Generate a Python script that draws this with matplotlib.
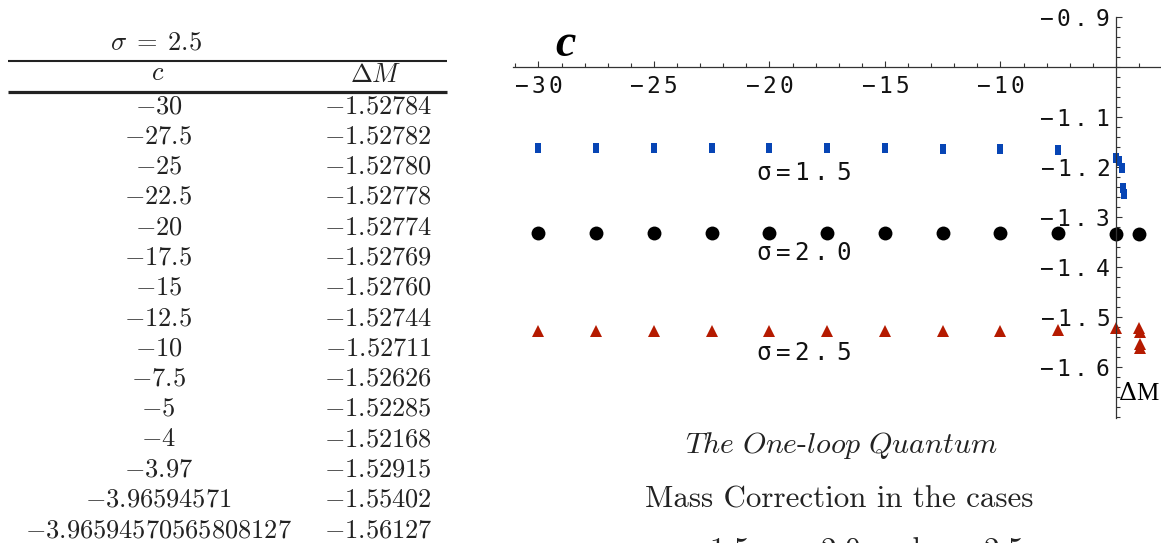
import matplotlib
matplotlib.use("Agg")
import matplotlib.pyplot as plt
from matplotlib.ticker import FixedLocator, MultipleLocator, FuncFormatter

plt.rcParams['mathtext.fontset'] = 'dejavusans'
plt.rcParams['axes.unicode_minus'] = True

# sigma = 2.5 table (also drawn as the red triangles)
c_labels = ["-30", "-27.5", "-25", "-22.5", "-20", "-17.5", "-15", "-12.5",
            "-10", "-7.5", "-5", "-4", "-3.97", "-3.96594571",
            "-3.96594570565808127"]
dm_labels = ["-1.52784", "-1.52782", "-1.52780", "-1.52778", "-1.52774",
             "-1.52769", "-1.52760", "-1.52744", "-1.52711", "-1.52626",
             "-1.52285", "-1.52168", "-1.52915", "-1.55402", "-1.56127"]
c_25 = [float(s) for s in c_labels]
dm_25 = [float(s) for s in dm_labels]

# sigma = 2.0 (black dots)
c_20 = [-30, -27.5, -25, -22.5, -20, -17.5, -15, -12.5, -10, -7.5, -5, -4]
dm_20 = [-1.3327, -1.3327, -1.3327, -1.3327, -1.3327, -1.3327, -1.3327,
         -1.3327, -1.3327, -1.3328, -1.3330, -1.3330]

# sigma = 1.5 (blue bars)
c_15 = [-30, -27.5, -25, -22.5, -20, -17.5, -15, -12.5, -10, -7.5,
        -5, -4.85, -4.73, -4.68, -4.67]
dm_15 = [-1.1610, -1.1610, -1.1611, -1.1612, -1.1613, -1.1616, -1.1622,
         -1.1630, -1.1638, -1.1667, -1.1820, -1.1885, -1.2027, -1.2420,
         -1.2545]

x_major = [-30, -25, -20, -15, -10]
y_major = [-1.6, -1.5, -1.4, -1.3, -1.2, -1.1, -0.9]


def mono(s):
    # Mathematica-style spaced courier labels
    return r'$\mathtt{' + r'\,'.join(s) + '}$'


fig = plt.figure(figsize=(11.61, 5.43), dpi=100)

# --- table and caption, drawn in pixel coordinates ---
tab = fig.add_axes([0, 0, 1, 1])
tab.set_xlim(0, 1161)
tab.set_ylim(543, 0)
tab.axis('off')

cm = dict(math_fontfamily='cm', family='cmr10', color='#222222')
tab.text(156, 50, r'$\sigma\;=\;2.5$', ha='center', va='baseline', fontsize=19, **cm)
tab.plot([8, 447], [60.5, 60.5], color='#222222', lw=1.5, solid_capstyle='butt')
tab.text(158, 80, r'$c$', ha='center', va='baseline', fontsize=19, **cm)
tab.text(376, 82, r'$\Delta M$', ha='center', va='baseline', fontsize=19, **cm)
tab.plot([8, 447], [91.5, 91.5], color='#222222', lw=2.3, solid_capstyle='butt')
for i in range(len(c_labels)):
    yb = 113 + 30.3 * i
    tab.text(158.5, yb, '$' + c_labels[i] + '$', ha='center', va='baseline',
             fontsize=19, **cm)
    tab.text(378, yb, '$' + dm_labels[i] + '$', ha='center', va='baseline',
             fontsize=19, **cm)

tab.text(841, 453, r'$\mathit{The\ One}$-$\mathit{loop\ Quantum}$',
         ha='center', va='baseline', fontsize=21.5, **cm)
tab.text(839, 508, 'Mass Correction in the cases', ha='center', va='baseline',
         fontsize=22.3, **cm)
tab.text(840, 559, r'$\sigma = 1.5$, $\sigma = 2.0$ and $\sigma = 2.5$',
         ha='center', va='baseline', fontsize=22.3, **cm)

# --- the plot ---
ax = fig.add_axes([513 / 1161, 1 - 418 / 543, 648 / 1161, 401 / 543])
ax.patch.set_alpha(0)
ax.set_xlim(-31.1, -3.05)
ax.set_ylim(-1.702, -0.9)

for side in ['top', 'right']:
    ax.spines[side].set_visible(False)
ax.spines['left'].set_position(('data', -5))
ax.spines['bottom'].set_position(('data', -1.0))
for side in ['left', 'bottom']:
    ax.spines[side].set_color('#333333')
    ax.spines[side].set_linewidth(0.9)

ax.xaxis.set_major_locator(FixedLocator(x_major))
ax.xaxis.set_minor_locator(MultipleLocator(1))
ax.yaxis.set_major_locator(FixedLocator(y_major))
ax.yaxis.set_minor_locator(MultipleLocator(0.02))
ax.xaxis.set_major_formatter(FuncFormatter(lambda v, p: mono(f'{v:g}')))
ax.yaxis.set_major_formatter(FuncFormatter(lambda v, p: mono(f'{v:.1f}')))

ax.tick_params(which='both', direction='in', color='#333333', width=0.8,
               labelsize=16.5, labelcolor='#111111')
ax.tick_params(which='major', length=4.5)
ax.tick_params(which='minor', length=3)
ax.tick_params(axis='x', pad=6)
ax.tick_params(axis='y', pad=4)

bar = [(-0.31, -0.5), (0.31, -0.5), (0.31, 0.5), (-0.31, 0.5), (-0.31, -0.5)]
ax.plot(c_15, dm_15, ls='none', marker=bar, ms=7.8, color='#0745b5', mew=0,
        clip_on=False)
ax.plot(c_20, dm_20, ls='none', marker='o', ms=10, color='black', mew=0,
        clip_on=False)
ax.plot(c_25, dm_25, ls='none', marker='^', ms=8.8, color='#b51a00', mew=0,
        clip_on=False)

lab = dict(ha='center', va='baseline', fontsize=17.5, color='#111111')
ax.text(-18.5, -1.2255, r'$\mathtt{\sigma=1\,.\,5}$', **lab)
ax.text(-18.5, -1.385, r'$\mathtt{\sigma=2\,.\,0}$', **lab)
ax.text(-18.5, -1.585, r'$\mathtt{\sigma=2\,.\,5}$', **lab)

fig.text(566 / 1161, 1 - 45 / 543, 'c', family='Liberation Serif',
         weight='bold', style='italic', fontsize=33, ha='center', va='center')
ax.text(-4.9, -1.655, r'$\Delta$M', family='Liberation Serif', fontsize=18,
        ha='left', va='center', math_fontfamily='dejavuserif')

fig.savefig('out.png', dpi=100)
